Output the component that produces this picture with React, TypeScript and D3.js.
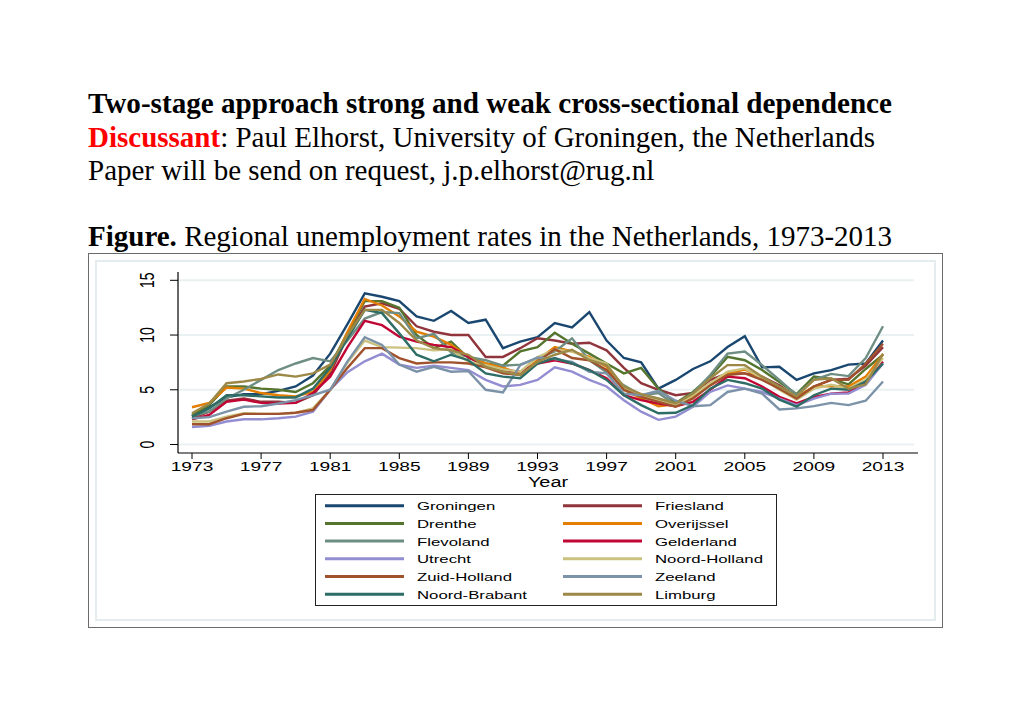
import React from "react";
import * as d3 from "d3";

const years = [1973,1974,1975,1976,1977,1978,1979,1980,1981,1982,1983,1984,1985,1986,1987,1988,1989,1990,1991,1992,1993,1994,1995,1996,1997,1998,1999,2000,2001,2002,2003,2004,2005,2006,2007,2008,2009,2010,2011,2012,2013];

const groningen = [2.6,3.4,4.3,4.6,4.6,4.9,5.3,6.3,8.3,11.0,13.8,13.5,13.1,11.7,11.3,12.2,11.1,11.4,8.8,9.4,9.8,11.1,10.7,12.1,9.5,7.9,7.5,5.1,5.9,6.9,7.6,8.9,9.9,7.05,7.1,5.9,6.5,6.8,7.3,7.4,9.5];
const friesland = [2.4,3.0,4.0,4.2,3.9,3.9,3.8,4.5,6.5,9.9,12.6,12.9,12.4,10.8,10.3,10.0,10.0,8.0,8.0,8.8,9.7,9.5,9.2,9.3,8.6,7.0,5.6,5.0,4.5,4.7,5.9,6.5,6.5,6.2,5.4,4.3,5.3,5.9,6.0,7.2,8.9];
const drenthe = [2.7,3.6,5.3,5.3,5.1,5.0,4.8,5.6,7.2,10.2,13.1,13.1,12.5,10.0,8.8,9.4,7.9,7.4,7.2,8.5,8.9,10.2,9.2,8.3,7.4,6.5,7.0,5.1,3.8,4.8,6.2,8.0,7.7,6.8,5.7,4.6,6.2,6.0,5.5,6.9,8.2];
const overijssel = [3.4,3.8,5.2,5.1,4.7,4.5,4.4,4.8,6.8,10.3,13.3,12.7,11.7,10.3,9.85,9.1,8.0,7.4,7.05,6.4,7.7,8.9,8.5,8.0,7.1,5.0,4.2,3.5,3.7,4.35,5.6,6.5,6.85,6.05,5.1,4.3,5.3,5.35,5.3,6.2,8.25];
const flevoland = [2.6,3.0,4.2,5.0,5.9,6.8,7.4,7.9,7.6,9.5,11.5,12.1,12.0,9.7,10.1,8.4,8.0,7.7,7.2,7.3,7.9,8.5,9.7,7.7,6.6,5.4,4.5,4.7,3.6,4.7,6.35,8.3,8.5,7.25,5.9,4.5,5.9,6.45,6.25,7.9,10.8];
const gelderland = [2.3,2.7,3.9,4.1,3.8,3.75,3.8,4.7,6.2,8.9,11.3,10.9,9.85,9.4,9.1,8.9,8.0,7.1,6.8,6.65,7.4,7.7,7.4,6.8,6.05,4.5,4.05,3.75,3.5,3.9,5.0,6.2,6.05,5.3,4.35,3.75,4.35,4.65,4.75,5.6,7.55];
const utrecht = [1.6,1.7,2.1,2.3,2.3,2.4,2.55,3.0,5.0,6.6,7.6,8.3,7.3,7.0,7.2,7.0,6.8,5.9,5.3,5.45,5.9,7.05,6.65,5.9,5.3,4.05,3.0,2.25,2.55,3.45,4.8,5.4,5.1,4.8,4.2,3.6,4.2,4.65,4.65,5.45,7.4];
const noordHolland = [2.1,2.1,2.55,2.85,2.8,2.8,2.9,3.3,5.0,7.5,9.5,8.9,8.85,8.8,8.6,8.7,7.55,7.25,6.85,6.65,8.0,8.65,8.5,7.9,7.4,5.1,4.5,4.05,3.6,4.5,5.6,6.65,6.95,6.05,5.0,4.1,5.1,5.45,5.1,5.9,7.9];
const zuidHolland = [1.85,1.85,2.4,2.8,2.8,2.8,2.9,3.15,5.0,7.0,8.8,8.8,7.9,7.4,7.5,7.5,7.4,7.05,6.5,6.35,7.55,8.7,7.9,7.7,6.8,5.0,4.35,3.9,3.45,4.2,5.4,6.35,6.5,5.9,5.1,4.2,5.3,5.9,5.9,7.4,9.2];
const zeeland = [2.4,2.5,3.0,3.45,3.5,3.75,4.05,4.5,5.0,7.6,9.8,9.1,7.3,6.65,7.1,6.65,6.7,5.0,4.75,7.25,7.95,7.8,7.55,6.65,6.5,4.65,4.5,4.9,4.0,3.5,3.6,4.8,5.1,4.65,3.2,3.3,3.5,3.8,3.6,4.0,5.75];
const noordBrabant = [2.55,3.3,4.5,4.5,4.4,4.3,4.3,5.1,7.0,9.7,12.3,12.0,10.15,8.2,7.6,8.2,7.7,6.5,6.2,6.05,7.4,7.9,7.4,6.8,5.9,4.5,3.6,2.85,2.9,3.6,5.1,5.9,5.6,5.1,4.1,3.45,4.5,5.1,5.0,5.75,7.4];
const limburg = [2.85,3.75,5.6,5.75,6.0,6.4,6.2,6.5,7.3,10.0,12.3,12.3,11.1,9.5,8.8,8.6,8.2,7.1,6.65,6.35,7.55,8.2,8.65,7.7,7.25,5.3,4.6,4.2,3.75,4.65,6.05,7.25,7.25,6.2,5.3,4.4,5.9,6.05,5.1,5.5,8.3];

const seriesNames = ["Groningen","Friesland","Drenthe","Overijssel","Flevoland","Gelderland","Utrecht","Noord-Holland","Zuid-Holland","Zeeland","Noord-Brabant","Limburg"];
const seriesValues = [groningen,friesland,drenthe,overijssel,flevoland,gelderland,utrecht,noordHolland,zuidHolland,zeeland,noordBrabant,limburg];
const seriesColors = ["#1a476f","#90353b","#55752f","#e37e00","#6e8e84","#c10534","#938dd2","#cac27e","#a0522d","#7b92a8","#2d6d66","#9c8847"];

const yTicks = [0,5,10,15];
const xTicks = [1973,1977,1981,1985,1989,1993,1997,2001,2005,2009,2013];

const SX = 1.42;
const sans = "'Liberation Sans', Arial, sans-serif";
const serif = "'Liberation Serif', 'Times New Roman', serif";

export default function App() {
  const x = d3.scaleLinear().domain([1973, 2013]).range([192, 883]);
  const y = d3.scaleLinear().domain([0, 15]).range([444.5, 280.3]);
  const line = d3.line<number>().x((_, i) => x(years[i])).y((d) => y(d));

  const legendRowY = (i: number) => 505.7 + i * 17.7;

  return (
    <svg width={1020} height={721} style={{ position: "absolute", left: 0, top: 0, background: "#fff" }}>
      <rect x={0} y={0} width={1020} height={721} fill="#fff" />
      {/* Titles */}
      <g fontFamily={serif} fontSize={29} fill="#000">
        <text x={88} y={113} fontWeight="bold" textLength={804} lengthAdjust="spacingAndGlyphs">Two-stage approach strong and weak cross-sectional dependence</text>
        <text x={88} y={146.5}>
          <tspan fill="#ff0000" fontWeight="bold">Discussant</tspan>
          <tspan>: Paul Elhorst, University of Groningen, the Netherlands</tspan>
        </text>
        <text x={88} y={179.5}>Paper will be send on request, j.p.elhorst@rug.nl</text>
        <text x={88} y={246}>
          <tspan fontWeight="bold">Figure.</tspan>
          <tspan> Regional unemployment rates in the Netherlands, 1973-2013</tspan>
        </text>
      </g>

      {/* Frame */}
      <rect x={88.5} y={253.5} width={854} height={374} fill="#fff" stroke="#6b6b6b" strokeWidth={1} />
      <rect x={96} y={261} width={839} height={359} fill="none" stroke="#e4ecef" strokeWidth={2} />

      {/* Gridlines */}
      {yTicks.map((t) => (
        <line key={"g" + t} x1={179} x2={914} y1={y(t)} y2={y(t)} stroke="#eaf1f2" strokeWidth={2} />
      ))}

      {/* Axes */}
      <line x1={178} x2={178} y1={272} y2={453} stroke="#000" strokeWidth={1.2} />
      <line x1={178} x2={918} y1={453} y2={453} stroke="#000" strokeWidth={1.2} />
      {yTicks.map((t) => (
        <g key={"yt" + t}>
          <line x1={170} x2={178} y1={y(t)} y2={y(t)} stroke="#000" strokeWidth={1} />
          <text
            transform={`translate(154,${y(t)}) scale(${SX},1) rotate(-90)`}
            textAnchor="middle"
            fontFamily={sans}
            fontSize={14}
            fill="#000"
          >
            {t}
          </text>
        </g>
      ))}
      {xTicks.map((t) => (
        <g key={"xt" + t}>
          <line x1={x(t)} x2={x(t)} y1={453} y2={459} stroke="#000" strokeWidth={1} />
          <text
            transform={`translate(${x(t)},471) scale(${SX},1)`}
            textAnchor="middle"
            fontFamily={sans}
            fontSize={13.5}
            fill="#000"
          >
            {t}
          </text>
        </g>
      ))}
      <text transform={`translate(548,487) scale(${SX},1)`} textAnchor="middle" fontFamily={sans} fontSize={14} fill="#000">
        Year
      </text>

      {/* Series */}
      {seriesValues.map((vals, i) => (
        <path key={seriesNames[i]} d={line(vals) || ""} fill="none" stroke={seriesColors[i]} strokeWidth={2.4} strokeLinejoin="miter" />
      ))}

      {/* Legend */}
      <rect x={315.5} y={494.5} width={461} height={111} fill="#fff" stroke="#222" strokeWidth={1} />
      {seriesNames.map((name, i) => {
        const col = i % 2;
        const row = Math.floor(i / 2);
        const lx = col === 0 ? 325 : 563;
        const tx = col === 0 ? 417 : 655;
        const ly = legendRowY(row);
        return (
          <g key={"lg" + name}>
            <line x1={lx} x2={lx + 79} y1={ly} y2={ly} stroke={seriesColors[i]} strokeWidth={3} />
            <text transform={`translate(${tx},${ly + 4.5}) scale(${SX},1)`} fontFamily={sans} fontSize={11.8} fill="#000">
              {name}
            </text>
          </g>
        );
      })}
    </svg>
  );
}
